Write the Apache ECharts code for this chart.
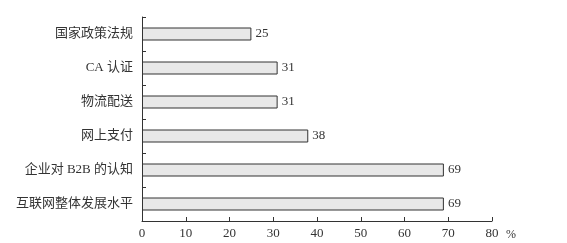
<!DOCTYPE html>
<html><head><meta charset="utf-8">
<script src="https://cdn.jsdelivr.net/npm/echarts@6/dist/echarts.min.js"></script>
<style>html,body{margin:0;padding:0;background:#fff}#c{width:567px;height:243px}</style>
</head><body><div id="c"></div>
<script>
var categories = ['国家政策法规', 'CA 认证', '物流配送', '网上支付', '企业对 B2B 的认知', '互联网整体发展水平'];
var values = [25, 31, 31, 38, 69, 69];
var xTicks = [0, 10, 20, 30, 40, 50, 60, 70, 80];

var font = '"Liberation Serif", "Noto Sans CJK SC", serif';
var chart = echarts.init(document.getElementById('c'));
chart.setOption({
  animation: false,
  grid: {left: 142, right: 75, top: 17, bottom: 22},
  xAxis: {
    type: 'value', min: xTicks[0], max: xTicks[xTicks.length - 1], interval: 10,
    name: '%', nameLocation: 'end', nameGap: 14,
    nameTextStyle: {fontFamily: font, fontSize: 12, color: '#333', verticalAlign: 'top', padding: [8, 0, 0, 0]},
    axisLine: {show: true, lineStyle: {color: '#333', width: 1}},
    axisTick: {show: true, inside: true, length: 4, lineStyle: {color: '#333'}},
    axisLabel: {fontFamily: font, fontSize: 13, color: '#333', margin: 6},
    splitLine: {show: false}
  },
  yAxis: {
    type: 'category', data: categories, inverse: true,
    axisLine: {show: true, lineStyle: {color: '#333', width: 1}},
    axisTick: {show: true, inside: true, length: 4, lineStyle: {color: '#333'}},
    axisLabel: {fontFamily: font, fontSize: 13, color: '#333', margin: 9}
  },
  series: [{
    type: 'bar', data: values, barWidth: 13,
    itemStyle: {color: '#e8e8e8', borderColor: '#333', borderWidth: 1},
    label: {show: true, position: 'right', distance: 4, fontFamily: font, fontSize: 13, color: '#333'}
  }]
});
</script></body></html>
